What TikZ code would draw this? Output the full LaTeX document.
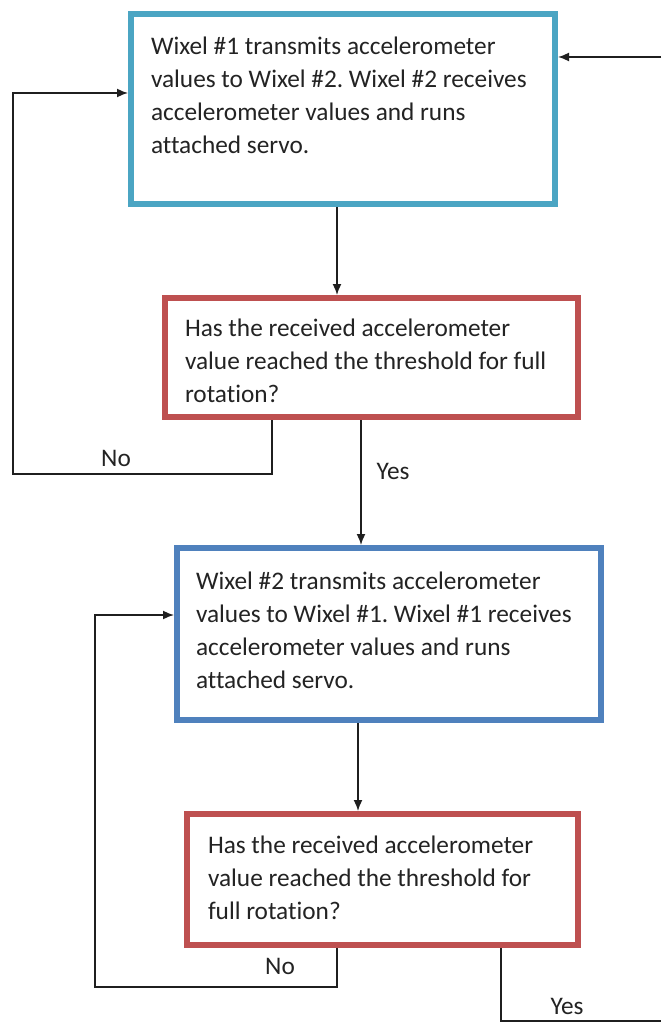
\documentclass[tikz,border=0pt]{standalone}
\usepackage{fontspec}
\setmainfont{Carlito}[Ligatures=NoCommon]
\usetikzlibrary{arrows.meta}
\definecolor{aquab}{RGB}{75,165,195}
\definecolor{redb}{RGB}{190,80,80}
\definecolor{blueb}{RGB}{79,129,189}
\definecolor{txt}{RGB}{35,35,35}
\frenchspacing
\newcommand{\bxt}[5]{\hspace*{#1}\begin{minipage}[t][#3][t]{#2}\raggedright\rule{0pt}{#4}#5\end{minipage}}
\begin{document}
\begin{tikzpicture}[x=1pt,y=-1pt,
  box/.style={draw, line width=6pt, fill=white, anchor=north west, inner sep=0pt,
    font=\fontsize{25.3}{33}\selectfont, text=txt},
  conn/.style={draw=black!88, line width=1.6pt},
  arr/.style={conn, -{Latex[length=11pt,width=9pt]}},
  lbl/.style={font=\fontsize{25.3}{30}\selectfont, text=txt, inner sep=0pt}]
\useasboundingbox[fill=white] (0,0) rectangle (661,1024);

\node[box, draw=aquab] (b1) at (128,11)
  {\bxt{20pt}{404pt}{190pt}{41pt}{Wixel \#1 transmits accelerometer\\values to Wixel \#2. Wixel \#2 receives\\accelerometer values and runs\\attached servo.}};
\node[box, draw=redb] (b2) at (162,295)
  {\bxt{20pt}{393pt}{119pt}{38pt}{Has the received accelerometer\\value reached the threshold for full\\rotation?}};
\node[box, draw=blueb] (b3) at (174,545)
  {\bxt{19pt}{405pt}{172pt}{41pt}{Wixel \#2 transmits accelerometer\\values to Wixel \#1. Wixel \#1 receives\\accelerometer values and runs\\attached servo.}};
\node[box, draw=redb] (b4) at (184,811)
  {\bxt{21pt}{370pt}{131pt}{39pt}{Has the received accelerometer\\value reached the threshold for\\full rotation?}};

% free ends and corners
\coordinate (rin) at (661,57);
\coordinate (x1) at (337,0);
\coordinate (x2) at (361,0);
\coordinate (n1a) at (272,474);
\coordinate (n1b) at (13,474);
\coordinate (n1c) at (13,93);
\coordinate (x3) at (358,0);
\coordinate (n2a) at (337,987);
\coordinate (n2b) at (95,987);
\coordinate (n2c) at (95,615);
\coordinate (y2a) at (501,1021);
\coordinate (yout) at (661,1021);

\draw[arr] (rin) -- (rin -| b1.east);
\draw[arr] (b1.south -| x1) -- (b2.north -| x1);
\draw[arr] (b2.south -| n1a) -- (n1a) -- (n1b) -- (n1c) -- (n1c -| b1.west);
\draw[arr] (b2.south -| x2) -- (b3.north -| x2);
\draw[arr] (b3.south -| x3) -- (b4.north -| x3);
\draw[arr] (b4.south -| n2a) -- (n2a) -- (n2b) -- (n2c) -- (n2c -| b3.west);
\draw[conn] (b4.south -| y2a) -- (y2a) -- (yout);

\node[lbl] (no1) at (116,458) {No};
\node[lbl] (yes1) at (393,471) {Yes};
\node[lbl] (no2) at (280,966) {No};
\node[lbl] (yes2) at (567,1006) {Yes};
\end{tikzpicture}
\end{document}
